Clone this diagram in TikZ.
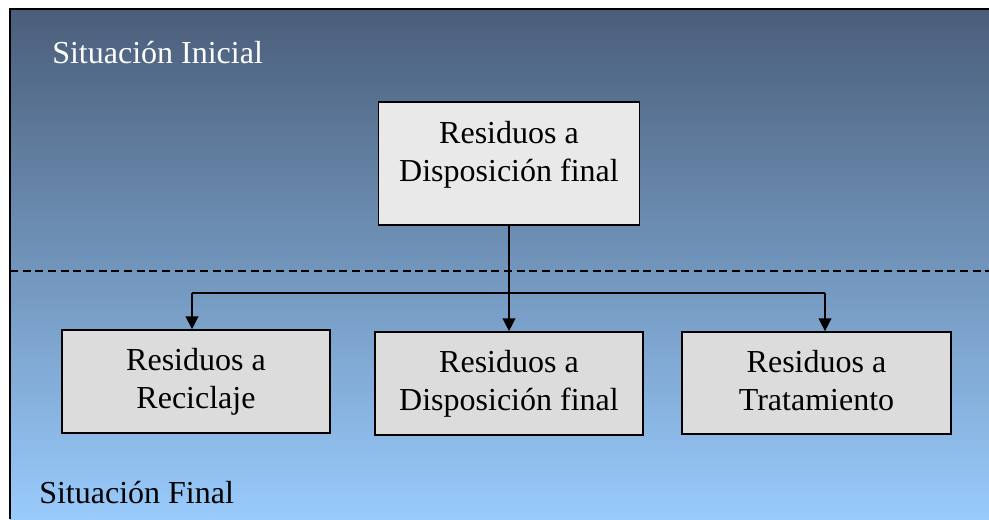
\documentclass[tikz,border=0pt]{standalone}
\usepackage{fontspec}
\setmainfont{Liberation Serif}
\usetikzlibrary{arrows.meta}
\definecolor{bgtop}{HTML}{4A5E7A}
\definecolor{bgmid}{HTML}{769DC8}
\definecolor{bgbot}{HTML}{99CBFC}
\definecolor{boxtop}{HTML}{E9E9E9}
\definecolor{boxbot}{HTML}{DCDCDC}
\begin{document}
\begin{tikzpicture}[x=0.75pt,y=-0.75pt,
  box/.style={draw=black,line width=1.3pt,rectangle,inner sep=0pt},
  txt/.style={align=center,font=\fontsize{24}{28.5}\selectfont,inner sep=0pt},
  lbl/.style={font=\fontsize{24}{28.5}\selectfont,inner sep=0pt,anchor=base west},
  conn/.style={line width=1.1pt,draw=black},
  arr/.style={conn,-{Triangle[length=9.5pt,width=9.5pt]}},
  sep/.style={line width=1.2pt,dash pattern=on 6pt off 3.5pt}]
\useasboundingbox (0,0) rectangle (989,519);
\fill[white] (0,0) rectangle (989,519);
\shade[top color=bgtop,middle color=bgmid,bottom color=bgbot] (10,9) rectangle (990,520);
\draw[line width=1.6pt] (10,519) -- (10,9) -- (989,9);
\draw[sep] (10,271) -- (989,271);
\node[lbl,text=white] (ini) at (52,63) {Situación Inicial};
\node[lbl,text=black] (fin) at (39,503) {Situación Final};
\node[box,fill=boxtop,minimum width=195.75pt,minimum height=92.25pt] (top) at (509,163.5) {};
\node[txt] (toptxt) at (509,155) {Residuos a\\Disposición final};
\node[box,fill=boxbot,minimum width=201pt,minimum height=77.25pt] (left) at (196,381.5) {};
\node[txt] (lefttxt) at (196,382) {Residuos a\\Reciclaje};
\node[box,fill=boxbot,minimum width=201pt,minimum height=77.25pt] (mid) at (509,383.5) {};
\node[txt] (midtxt) at (509,383.5) {Residuos a\\Disposición final};
\node[box,fill=boxbot,minimum width=201.75pt,minimum height=76.5pt] (right) at (816.5,383) {};
\node[txt] (righttxt) at (816.5,381) {Residuos a\\Tratamiento};
\coordinate (hl) at (192,293);
\coordinate (hr) at (825,293);
\draw[conn] (hl) -- (hr);
\draw[arr] (top.south) -- (mid.north);
\draw[arr] (hl) -- (hl |- left.north);
\draw[arr] (hr) -- (hr |- right.north);
\end{tikzpicture}
\end{document}
